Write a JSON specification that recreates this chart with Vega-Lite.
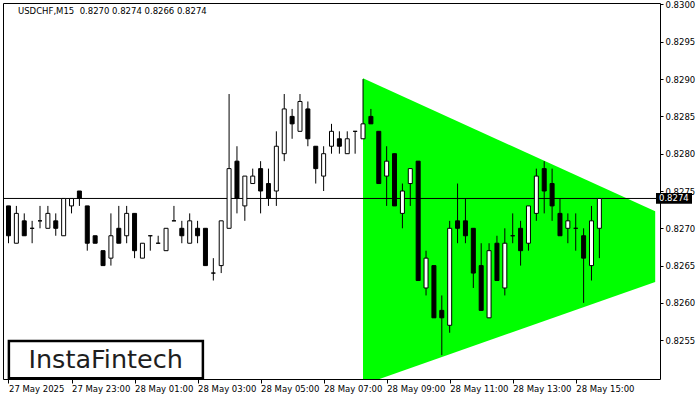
{
  "$schema": "https://vega.github.io/schema/vega-lite/v6.json",
  "width": 657,
  "height": 376,
  "autosize": {"type": "none"},
  "padding": {"left": 3, "top": 3, "right": 40, "bottom": 21},
  "background": "white",
  "title": {
    "text": "USDCHF,M15\u00a0 0.8270 0.8274 0.8266 0.8274",
    "anchor": "start",
    "frame": "group",
    "orient": "top",
    "offset": -12,
    "baseline": "top",
    "dx": 15,
    "dy": 3,
    "font": "DejaVu Sans",
    "fontSize": 8.5,
    "fontWeight": "normal",
    "color": "#000000"
  },
  "datasets": {
    "candles": [
      {"t": "2025-05-27T21:00:00Z", "o": 0.8273, "h": 0.8273, "l": 0.8268, "c": 0.8269},
      {"t": "2025-05-27T21:15:00Z", "o": 0.8268, "h": 0.8273, "l": 0.8268, "c": 0.8272},
      {"t": "2025-05-27T21:30:00Z", "o": 0.8271, "h": 0.8272, "l": 0.8269, "c": 0.8269},
      {"t": "2025-05-27T21:45:00Z", "o": 0.8270, "h": 0.8271, "l": 0.8268, "c": 0.8270},
      {"t": "2025-05-27T22:00:00Z", "o": 0.8271, "h": 0.8273, "l": 0.8270, "c": 0.8271},
      {"t": "2025-05-27T22:15:00Z", "o": 0.8270, "h": 0.8273, "l": 0.8270, "c": 0.8272},
      {"t": "2025-05-27T22:30:00Z", "o": 0.8271, "h": 0.8272, "l": 0.8269, "c": 0.8270},
      {"t": "2025-05-27T22:45:00Z", "o": 0.8269, "h": 0.8274, "l": 0.8269, "c": 0.8274},
      {"t": "2025-05-27T23:00:00Z", "o": 0.8273, "h": 0.8274, "l": 0.8272, "c": 0.8274},
      {"t": "2025-05-27T23:15:00Z", "o": 0.8275, "h": 0.8275, "l": 0.8273, "c": 0.8274},
      {"t": "2025-05-27T23:30:00Z", "o": 0.8273, "h": 0.8273, "l": 0.8267, "c": 0.8268},
      {"t": "2025-05-27T23:45:00Z", "o": 0.8269, "h": 0.8269, "l": 0.8268, "c": 0.8268},
      {"t": "2025-05-28T00:00:00Z", "o": 0.8267, "h": 0.8267, "l": 0.8265, "c": 0.8265},
      {"t": "2025-05-28T00:15:00Z", "o": 0.8266, "h": 0.8272, "l": 0.8265, "c": 0.8269},
      {"t": "2025-05-28T00:30:00Z", "o": 0.8270, "h": 0.8273, "l": 0.8268, "c": 0.8268},
      {"t": "2025-05-28T00:45:00Z", "o": 0.8269, "h": 0.8273, "l": 0.8268, "c": 0.8272},
      {"t": "2025-05-28T01:00:00Z", "o": 0.8272, "h": 0.8272, "l": 0.8266, "c": 0.8267},
      {"t": "2025-05-28T01:15:00Z", "o": 0.8266, "h": 0.8268, "l": 0.8266, "c": 0.8268},
      {"t": "2025-05-28T01:30:00Z", "o": 0.8269, "h": 0.8269, "l": 0.8267, "c": 0.8269},
      {"t": "2025-05-28T01:45:00Z", "o": 0.8268, "h": 0.8269, "l": 0.8268, "c": 0.8268},
      {"t": "2025-05-28T02:00:00Z", "o": 0.8267, "h": 0.8270, "l": 0.8267, "c": 0.8270},
      {"t": "2025-05-28T02:15:00Z", "o": 0.8271, "h": 0.8273, "l": 0.8271, "c": 0.8271},
      {"t": "2025-05-28T02:30:00Z", "o": 0.8270, "h": 0.8271, "l": 0.8268, "c": 0.8269},
      {"t": "2025-05-28T02:45:00Z", "o": 0.8268, "h": 0.8272, "l": 0.8268, "c": 0.8271},
      {"t": "2025-05-28T03:00:00Z", "o": 0.8270, "h": 0.8271, "l": 0.8268, "c": 0.8269},
      {"t": "2025-05-28T03:15:00Z", "o": 0.8270, "h": 0.8270, "l": 0.8265, "c": 0.8265},
      {"t": "2025-05-28T03:30:00Z", "o": 0.8264, "h": 0.8266, "l": 0.8263, "c": 0.8264},
      {"t": "2025-05-28T03:45:00Z", "o": 0.8265, "h": 0.8271, "l": 0.8264, "c": 0.8271},
      {"t": "2025-05-28T04:00:00Z", "o": 0.8270, "h": 0.8288, "l": 0.8270, "c": 0.8278},
      {"t": "2025-05-28T04:15:00Z", "o": 0.8279, "h": 0.8281, "l": 0.8272, "c": 0.8274},
      {"t": "2025-05-28T04:30:00Z", "o": 0.8273, "h": 0.8277, "l": 0.8271, "c": 0.8277},
      {"t": "2025-05-28T04:45:00Z", "o": 0.8276, "h": 0.8278, "l": 0.8276, "c": 0.8277},
      {"t": "2025-05-28T05:00:00Z", "o": 0.8278, "h": 0.8279, "l": 0.8272, "c": 0.8275},
      {"t": "2025-05-28T05:15:00Z", "o": 0.8276, "h": 0.8278, "l": 0.8273, "c": 0.8274},
      {"t": "2025-05-28T05:30:00Z", "o": 0.8275, "h": 0.8283, "l": 0.8273, "c": 0.8281},
      {"t": "2025-05-28T05:45:00Z", "o": 0.8280, "h": 0.8288, "l": 0.8279, "c": 0.8286},
      {"t": "2025-05-28T06:00:00Z", "o": 0.8285, "h": 0.8286, "l": 0.8282, "c": 0.8284},
      {"t": "2025-05-28T06:15:00Z", "o": 0.8283, "h": 0.8288, "l": 0.8283, "c": 0.8287},
      {"t": "2025-05-28T06:30:00Z", "o": 0.8286, "h": 0.8287, "l": 0.8281, "c": 0.8282},
      {"t": "2025-05-28T06:45:00Z", "o": 0.8281, "h": 0.8281, "l": 0.8276, "c": 0.8278},
      {"t": "2025-05-28T07:00:00Z", "o": 0.8277, "h": 0.8281, "l": 0.8275, "c": 0.8280},
      {"t": "2025-05-28T07:15:00Z", "o": 0.8281, "h": 0.8284, "l": 0.8280, "c": 0.8283},
      {"t": "2025-05-28T07:30:00Z", "o": 0.8282, "h": 0.8283, "l": 0.8280, "c": 0.8281},
      {"t": "2025-05-28T07:45:00Z", "o": 0.8280, "h": 0.8283, "l": 0.8280, "c": 0.8282},
      {"t": "2025-05-28T08:00:00Z", "o": 0.8283, "h": 0.8283, "l": 0.8280, "c": 0.8283},
      {"t": "2025-05-28T08:15:00Z", "o": 0.8282, "h": 0.8290, "l": 0.8282, "c": 0.8284},
      {"t": "2025-05-28T08:30:00Z", "o": 0.8285, "h": 0.8286, "l": 0.8284, "c": 0.8284},
      {"t": "2025-05-28T08:45:00Z", "o": 0.8283, "h": 0.8283, "l": 0.8276, "c": 0.8276},
      {"t": "2025-05-28T09:00:00Z", "o": 0.8277, "h": 0.8281, "l": 0.8273, "c": 0.8279},
      {"t": "2025-05-28T09:15:00Z", "o": 0.8280, "h": 0.8280, "l": 0.8273, "c": 0.8273},
      {"t": "2025-05-28T09:30:00Z", "o": 0.8272, "h": 0.8276, "l": 0.8270, "c": 0.8275},
      {"t": "2025-05-28T09:45:00Z", "o": 0.8276, "h": 0.8278, "l": 0.8273, "c": 0.8278},
      {"t": "2025-05-28T10:00:00Z", "o": 0.8279, "h": 0.8279, "l": 0.8263, "c": 0.8263},
      {"t": "2025-05-28T10:15:00Z", "o": 0.8262, "h": 0.8267, "l": 0.8261, "c": 0.8266},
      {"t": "2025-05-28T10:30:00Z", "o": 0.8265, "h": 0.8265, "l": 0.8258, "c": 0.8258},
      {"t": "2025-05-28T10:45:00Z", "o": 0.8259, "h": 0.8261, "l": 0.8253, "c": 0.8258},
      {"t": "2025-05-28T11:00:00Z", "o": 0.8257, "h": 0.8271, "l": 0.8256, "c": 0.8270},
      {"t": "2025-05-28T11:15:00Z", "o": 0.8271, "h": 0.8276, "l": 0.8268, "c": 0.8270},
      {"t": "2025-05-28T11:30:00Z", "o": 0.8271, "h": 0.8274, "l": 0.8268, "c": 0.8269},
      {"t": "2025-05-28T11:45:00Z", "o": 0.8270, "h": 0.8270, "l": 0.8262, "c": 0.8264},
      {"t": "2025-05-28T12:00:00Z", "o": 0.8265, "h": 0.8268, "l": 0.8259, "c": 0.8259},
      {"t": "2025-05-28T12:15:00Z", "o": 0.8258, "h": 0.8268, "l": 0.8258, "c": 0.8267},
      {"t": "2025-05-28T12:30:00Z", "o": 0.8268, "h": 0.8269, "l": 0.8263, "c": 0.8263},
      {"t": "2025-05-28T12:45:00Z", "o": 0.8262, "h": 0.8270, "l": 0.8261, "c": 0.8268},
      {"t": "2025-05-28T13:00:00Z", "o": 0.8269, "h": 0.8272, "l": 0.8268, "c": 0.8269},
      {"t": "2025-05-28T13:15:00Z", "o": 0.8270, "h": 0.8271, "l": 0.8265, "c": 0.8267},
      {"t": "2025-05-28T13:30:00Z", "o": 0.8268, "h": 0.8273, "l": 0.8267, "c": 0.8273},
      {"t": "2025-05-28T13:45:00Z", "o": 0.8272, "h": 0.8278, "l": 0.8271, "c": 0.8277},
      {"t": "2025-05-28T14:00:00Z", "o": 0.8278, "h": 0.8279, "l": 0.8272, "c": 0.8275},
      {"t": "2025-05-28T14:15:00Z", "o": 0.8276, "h": 0.8278, "l": 0.8271, "c": 0.8273},
      {"t": "2025-05-28T14:30:00Z", "o": 0.8272, "h": 0.8274, "l": 0.8269, "c": 0.8269},
      {"t": "2025-05-28T14:45:00Z", "o": 0.8270, "h": 0.8272, "l": 0.8268, "c": 0.8271},
      {"t": "2025-05-28T15:00:00Z", "o": 0.8270, "h": 0.8272, "l": 0.8267, "c": 0.8270},
      {"t": "2025-05-28T15:15:00Z", "o": 0.8269, "h": 0.8270, "l": 0.8260, "c": 0.8266},
      {"t": "2025-05-28T15:30:00Z", "o": 0.8265, "h": 0.8273, "l": 0.8263, "c": 0.8271},
      {"t": "2025-05-28T15:45:00Z", "o": 0.8270, "h": 0.8274, "l": 0.8266, "c": 0.8274}
    ],
    "triangle": [
      {"t": "2025-05-28T08:15:00Z", "top": 0.82901, "bot": 0.82498},
      {"t": "2025-05-28T08:46:20Z", "top": 0.82891, "bot": 0.82498},
      {"t": "2025-05-28T17:31:18Z", "top": 0.82723, "bot": 0.82628}
    ]
  },
  "layer": [
    {
      "data": {"name": "triangle"},
      "mark": {"type": "area", "color": "#00ff00", "opacity": 1, "interpolate": "linear"},
      "encoding": {
        "x": {"field": "t", "type": "temporal", "title": null,
              "scale": {"type": "utc", "domain": [1748379543500, 1748453455500], "nice": false},
              "axis": {"orient": "bottom", "values": [1748379600000, 1748386800000, 1748394000000, 1748401200000, 1748408400000, 1748415600000, 1748422800000, 1748430000000, 1748437200000, 1748444400000],
                       "labelExpr": "utcFormat(datum.value, '%H') == '21' ? '27 May 2025' : utcFormat(datum.value, '%d %b %H:%M')"}},
        "y": {"field": "top", "type": "quantitative", "title": null,
              "scale": {"domain": [0.82498, 0.83002], "zero": false, "nice": false},
              "axis": {"orient": "right", "values": [0.8255, 0.826, 0.8265, 0.827, 0.8275, 0.828, 0.8285, 0.829, 0.8295, 0.83], "format": ".4f"}},
        "y2": {"field": "bot"}
      }
    },
    {
      "data": {"values": [{}]},
      "mark": {"type": "rule", "color": "#000000", "strokeWidth": 1},
      "encoding": {
        "y": {"datum": 0.8274, "type": "quantitative", "title": null}
      }
    },
    {
      "data": {"name": "candles"},
      "mark": {"type": "rule", "color": "#000000", "strokeWidth": 1},
      "encoding": {
        "x": {"field": "t", "type": "temporal", "title": null},
        "y": {"field": "l", "type": "quantitative", "title": null},
        "y2": {"field": "h"}
      }
    },
    {
      "data": {"name": "candles"},
      "mark": {"type": "bar", "orient": "vertical", "size": 4, "stroke": "#000000", "strokeWidth": 1},
      "encoding": {
        "x": {"field": "t", "type": "temporal", "title": null},
        "y": {"field": "o", "type": "quantitative", "title": null},
        "y2": {"field": "c"},
        "fill": {"condition": {"test": "datum.c < datum.o", "value": "#000000"}, "value": "#ffffff"}
      }
    },
    {
      "data": {"values": [{}]},
      "mark": {"type": "point", "shape": "M-1,-0.3L1,-0.3L1,0.3L-1,0.3Z", "size": 1296, "filled": true, "color": "#000000", "opacity": 1, "xOffset": 19},
      "encoding": {
        "x": {"datum": 1748453455500, "type": "temporal", "title": null},
        "y": {"datum": 0.8274, "type": "quantitative", "title": null}
      }
    },
    {
      "data": {"values": [{}]},
      "mark": {"type": "text", "text": "0.8274", "color": "#ffffff", "align": "left", "baseline": "middle", "dx": 4, "font": "DejaVu Sans", "fontSize": 8.5},
      "encoding": {
        "x": {"datum": 1748453455500, "type": "temporal", "title": null},
        "y": {"datum": 0.8274, "type": "quantitative", "title": null}
      }
    },
    {
      "data": {"values": [{}]},
      "mark": {"type": "rect", "fill": "#ffffff", "stroke": "#000000", "strokeWidth": 2.5},
      "encoding": {
        "x": {"datum": 1748379645000, "type": "temporal", "title": null},
        "x2": {"datum": 1748401807000},
        "y": {"datum": 0.82549, "type": "quantitative", "title": null},
        "y2": {"datum": 0.82499}
      }
    },
    {
      "data": {"values": [{}]},
      "mark": {"type": "text", "text": "InstaFintech", "color": "#1e1e1e", "align": "center", "baseline": "middle", "font": "DejaVu Sans", "fontSize": 25.5, "fontWeight": "normal"},
      "encoding": {
        "x": {"datum": 1748390703500, "type": "temporal", "title": null},
        "y": {"datum": 0.82524, "type": "quantitative", "title": null}
      }
    }
  ],
  "config": {
    "view": {"stroke": "#000000", "strokeWidth": 1},
    "axis": {
      "grid": false,
      "domain": false,
      "tickColor": "#000000",
      "labelColor": "#000000",
      "labelFont": "DejaVu Sans",
      "labelFontSize": 8.5,
      "labelOverlap": false,
      "labelBound": false,
      "labelFlush": false
    },
    "axisX": {"tickSize": 4, "labelAlign": "left", "labelBaseline": "top", "labelPadding": 1},
    "axisY": {"tickSize": 3, "labelAlign": "left", "labelBaseline": "middle", "labelPadding": 2}
  }
}
